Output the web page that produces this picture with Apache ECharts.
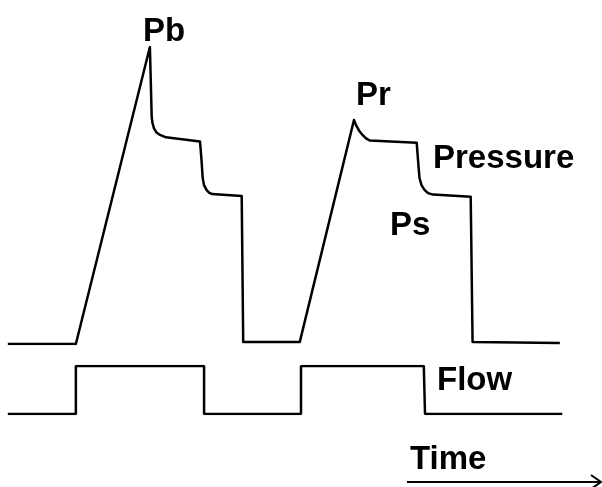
<!DOCTYPE html>
<html>
<head>
<meta charset="utf-8">
<script src="https://cdn.jsdelivr.net/npm/echarts@6/dist/echarts.min.js"></script>
<style>
  html, body { margin: 0; padding: 0; background: #fff; }
  #main { width: 602px; height: 487px; }
</style>
</head>
<body>
<div id="main"></div>
<script>
// 时间轴 (任意单位 0-100)
const pressureTime = [1.3, 12.6, 24.9, 25.2, 25.33, 25.58, 26.0, 26.58, 27.57, 33.22, 33.47, 33.67, 33.89, 34.3, 34.72, 35.22, 40.15, 40.4, 49.8,
  58.8, 59.14, 59.63, 60.22, 60.8, 61.46, 69.22, 69.44, 69.68, 70.02, 70.51, 71.1, 71.93, 78.19, 78.5, 93.0]
// 压力值 (0 = 基线, 100 = Pb)
const pressureValue = [0, 0, 100, 76.5, 74.4, 72.6, 71.2, 70.4, 69.6, 68.2, 62.0, 55.9, 53.5, 51.9, 51.0, 50.5, 49.8, 0.7, 0.7,
  75.4, 73.7, 71.9, 70.4, 69.2, 68.5, 67.8, 61.9, 55.9, 53.5, 51.9, 50.8, 50.3, 49.6, 0.7, 0.3]
// 流量 (0 = 关, 1 = 开)
const flowTime = [1.3, 12.6, 12.6, 33.9, 33.9, 50.0, 50.0, 70.4, 70.6, 93.4]
const flowValue = [0, 0, 1, 1, 0, 0, 1, 1, 0, 0]
// 文字标签 (x = 左边, y = 基线)
const labels = [
  { text: 'Pb', x: 143, y: 40 },
  { text: 'Pr', x: 356, y: 104 },
  { text: 'Pressure', x: 433, y: 167 },
  { text: 'Ps', x: 390, y: 234 },
  { text: 'Flow', x: 437, y: 389 },
  { text: 'Time', x: 410, y: 468 }
]

function drawChart(){
  let box = document.querySelector("#main")
  let myChart = echarts.init(box)
  let pressureData = pressureTime.map((t, i) => [t, pressureValue[i]])
  let flowData = flowTime.map((t, i) => [t, flowValue[i]])
  let option = {
    animation: false,
    backgroundColor: '#fff',
    // 上面是压力, 下面是流量
    grid: [
      { left: 0, right: 0, top: 47, height: 297 },
      { left: 0, right: 0, top: 366, height: 48 }
    ],
    xAxis: [
      { type: 'value', min: 0, max: 100, gridIndex: 0, show: false },
      { type: 'value', min: 0, max: 100, gridIndex: 1, show: false }
    ],
    yAxis: [
      { type: 'value', min: 0, max: 100, gridIndex: 0, show: false },
      { type: 'value', min: 0, max: 1, gridIndex: 1, show: false }
    ],
    series: [
      {
        name: 'Pressure',
        type: 'line',
        xAxisIndex: 0,
        yAxisIndex: 0,
        data: pressureData,
        showSymbol: false,
        lineStyle: { color: '#000', width: 2.5, join: 'round' }
      },
      {
        name: 'Flow',
        type: 'line',
        xAxisIndex: 1,
        yAxisIndex: 1,
        data: flowData,
        showSymbol: false,
        lineStyle: { color: '#000', width: 2.5 }
      }
    ],
    graphic: labels.map(l => ({
      type: 'text',
      x: l.x,
      y: l.y + 8,
      style: {
        text: l.text,
        fill: '#000',
        font: 'bold 33px "Liberation Sans", Arial, sans-serif',
        textVerticalAlign: 'bottom'
      }
    })).concat([
      {
        type: 'line',
        shape: { x1: 407, y1: 482, x2: 600, y2: 482 },
        style: { stroke: '#000', lineWidth: 2 }
      },
      {
        type: 'polyline',
        shape: { points: [[591, 475], [601, 482], [591, 489]] },
        style: { stroke: '#000', lineWidth: 2, fill: null }
      }
    ])
  }
  myChart.setOption(option)
}
drawChart()
</script>
</body>
</html>
